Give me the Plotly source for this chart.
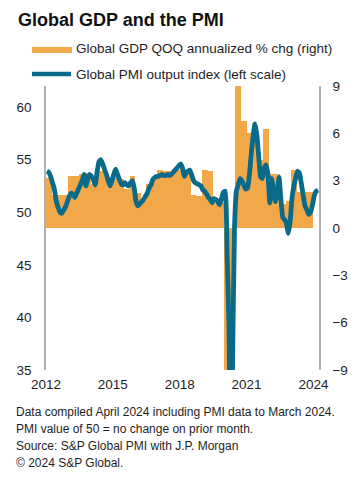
import plotly.graph_objects as go

# ---------------- data ----------------
# Global PMI output index, monthly, Jan 2012 - Mar 2024 (left scale)
pmi_start_year = 2012
pmi_values = [
    53.9, 53.8, 53.4, 52.8, 52.2, 51.1, 50.5, 50.0, 49.9, 50.2, 50.5, 51.0,   # 2012
    51.5, 51.8, 51.7, 51.4, 51.8, 52.2, 52.6, 53.0, 53.6, 52.5, 53.2, 53.6,   # 2013
    53.4, 53.1, 52.6, 53.8, 54.8, 55.0, 54.6, 54.1, 53.6, 53.0, 52.5, 53.0,   # 2014
    53.6, 54.1, 53.6, 53.1, 52.7, 52.6, 52.8, 52.6, 52.5, 52.8, 53.0, 52.3,   # 2015
    51.0, 50.6, 50.8, 51.0, 51.2, 51.5, 51.8, 52.3, 52.6, 53.1, 53.3, 53.4,   # 2016
    53.4, 53.5, 53.6, 53.5, 53.5, 53.6, 53.5, 53.6, 53.8, 54.0, 54.2, 54.4,   # 2017
    54.6, 54.2, 53.4, 53.8, 53.9, 54.0, 53.5, 53.0, 52.8, 52.7, 52.6, 52.5,   # 2018
    52.1, 52.0, 51.7, 51.4, 51.2, 50.9, 51.3, 51.2, 51.0, 50.7, 51.3, 51.9,   # 2019
    52.0, 46.1, 39.4, 26.2, 36.3, 48.5, 52.0, 52.6, 53.2, 53.0, 52.6, 52.2,   # 2020
    52.3, 53.5, 55.5, 57.2, 58.4, 57.4, 55.4, 53.4, 53.2, 54.2, 54.5, 53.6,   # 2021
    50.9, 53.2, 52.0, 51.0, 52.0, 53.3, 51.2, 49.5, 49.3, 48.9, 48.0, 49.2,   # 2022
    51.4, 52.5, 53.3, 53.9, 53.7, 52.7, 51.6, 50.6, 50.2, 49.8, 50.0, 50.7,   # 2023
    51.6, 52.0, 52.1,                                                         # 2024
]

# Global GDP QOQ annualized % change, quarterly, 2012Q1 - 2023Q4 (right scale)
gdp_start_year = 2012
gdp_values = [
    3.2, 2.1, 2.1, 2.1,     # 2012
    3.3, 3.3, 3.4, 3.5,     # 2013
    2.8, 3.6, 3.6, 3.0,     # 2014
    3.2, 3.1, 2.5, 3.3,     # 2015
    2.2, 1.9, 2.8, 3.2,     # 2016
    3.7, 3.6, 3.6, 3.7,     # 2017
    3.8, 3.6, 2.1, 2.0,     # 2018
    3.7, 3.6, 1.6, 1.6,     # 2019
    -9.5, -9.5, 9.5, 6.8,   # 2020
    6.0, 6.0, 4.3, 6.3,     # 2021
    3.4, 3.4, 1.5, 1.7,     # 2022
    3.7, 2.3, 2.3, 2.3,     # 2023
]

x_tick_values = [2012, 2015, 2018, 2021, 2024]
x_tick_labels = ["2012", "2015", "2018", "2021", "2024"]
left_ticks = [35, 40, 45, 50, 55, 60]
right_ticks = [-9, -6, -3, 0, 3, 6, 9]

title_text = "Global GDP and the PMI"
gdp_name = "Global GDP QOQ annualized % chg (right)"
pmi_name = "Global PMI output index (left scale)"
footer_lines = [
    "Data compiled April 2024 including PMI data to March 2024.",
    "PMI value of 50 = no change on prior month.",
    "Source: S&P Global PMI with J.P. Morgan",
    "© 2024 S&P Global.",
]

# ---------------- derived positions ----------------
pmi_x = [pmi_start_year + (i + 0.5) / 12 for i in range(len(pmi_values))]
gdp_x = [gdp_start_year + (i + 0.5) / 4 for i in range(len(gdp_values))]

ORANGE = "#F2A748"
TEAL = "#0A6A8A"
FONT = "Liberation Sans, Arial, sans-serif"
TEXT = "#1e1e1e"

# The page body has an 8px margin, so the figure is drawn 8px in from the
# window's top-left corner; all layout positions below are window pixels.
OFF = 8
W, H = 358 - 2 * OFF, 490 - 2 * OFF
PLOT_L, PLOT_R, PLOT_T, PLOT_B = 46, 319, 86, 370   # window px
L = PLOT_L - OFF
T = PLOT_T - OFF
R = W - (PLOT_R - OFF)
B = H - (PLOT_B - OFF)
PW, PH = W - L - R, H - T - B

def px_x(px):
    return (px - PLOT_L) / PW

def px_y(py):
    return (PLOT_B - py) / PH

fig = go.Figure()
fig.add_trace(go.Bar(
    x=gdp_x, y=gdp_values, width=[0.25] * len(gdp_values),
    marker=dict(color=ORANGE, line=dict(width=0)),
    name=gdp_name, yaxis="y", showlegend=False,
))
fig.add_trace(go.Scatter(
    x=pmi_x, y=pmi_values, mode="lines",
    line=dict(color=TEAL, width=4.8, shape="spline", smoothing=0.4),
    name=pmi_name, yaxis="y2", showlegend=False, cliponaxis=True,
))

fig.update_layout(
    width=W, height=H,
    margin=dict(l=L, r=R, t=T, b=B, autoexpand=False),
    paper_bgcolor="white", plot_bgcolor="white",
    font=dict(family=FONT, size=13, color=TEXT),
    bargap=0,
    xaxis=dict(
        range=[2012, 2024.25], tickvals=x_tick_values, ticktext=x_tick_labels,
        showgrid=False, zeroline=False, showline=False, ticks="", automargin=False,
        tickfont=dict(size=13.5, color=TEXT), ticklabelstandoff=4,
    ),
    yaxis=dict(
        side="right", range=[-9, 9], tickvals=right_ticks, automargin=False,
        showgrid=False, zeroline=False, showline=True, linecolor="#b0b0b0", linewidth=1.5,
        ticks="", tickfont=dict(size=13.5, color=TEXT), ticklabelstandoff=9,
    ),
    yaxis2=dict(
        side="left", overlaying="y", range=[35, 62], tickvals=left_ticks, automargin=False,
        showgrid=False, zeroline=False, showline=True, linecolor="#b0b0b0", linewidth=1.5,
        ticks="", tickfont=dict(size=13.5, color=TEXT), ticklabelstandoff=10,
    ),
)

annotations = [
    dict(text="<b>" + title_text + "</b>", x=px_x(16), y=px_y(20), xref="paper", yref="paper",
         xanchor="left", yanchor="middle", showarrow=False,
         font=dict(size=18, color="#111111", family=FONT)),
    dict(text=gdp_name, x=px_x(74), y=px_y(48.5), xref="paper", yref="paper",
         xanchor="left", yanchor="middle", showarrow=False, font=dict(size=13.5, color=TEXT)),
    dict(text=pmi_name, x=px_x(74), y=px_y(74), xref="paper", yref="paper",
         xanchor="left", yanchor="middle", showarrow=False, font=dict(size=13.5, color=TEXT)),
]
for i, line in enumerate(footer_lines):
    annotations.append(dict(
        text=line, x=px_x(14), y=px_y(412 + 17 * i), xref="paper", yref="paper",
        xanchor="left", yanchor="middle", showarrow=False,
        font=dict(size=12, color=TEXT),
    ))
fig.update_layout(annotations=annotations)

fig.update_layout(shapes=[
    dict(type="line", xref="paper", yref="paper", x0=px_x(32), x1=px_x(72),
         y0=px_y(50), y1=px_y(50), line=dict(color=ORANGE, width=6)),
    dict(type="line", xref="paper", yref="paper", x0=px_x(32), x1=px_x(71),
         y0=px_y(74), y1=px_y(74), line=dict(color=TEAL, width=4.5)),
])

fig.write_html("out.html")
